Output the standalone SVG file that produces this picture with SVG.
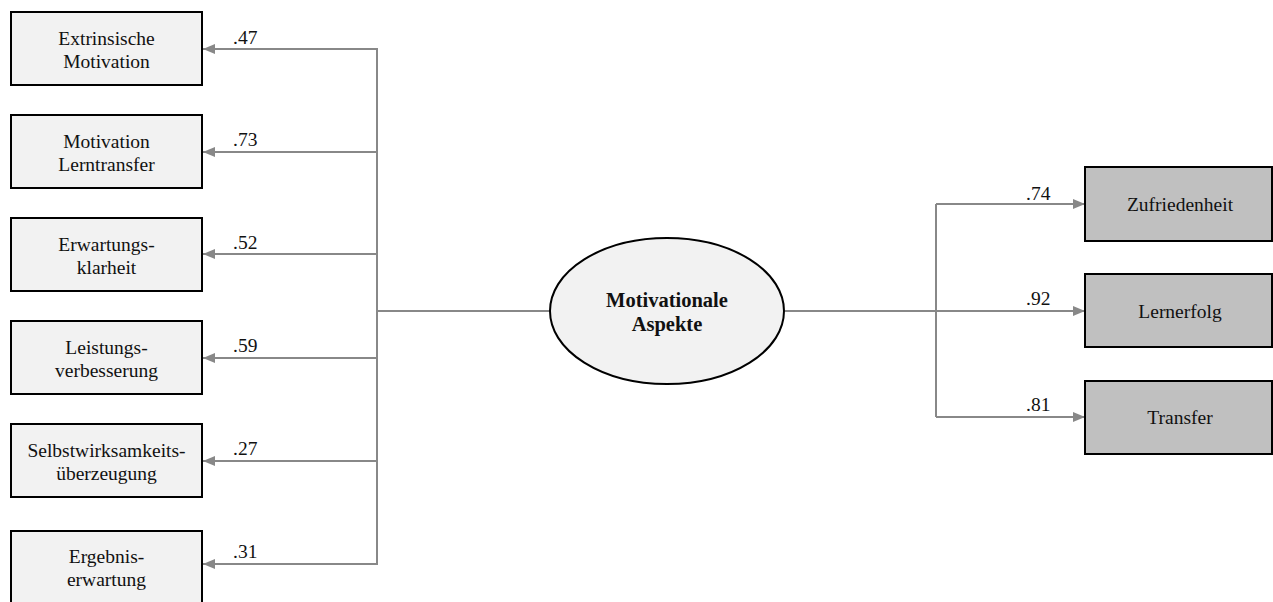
<svg xmlns="http://www.w3.org/2000/svg" width="1273" height="602" viewBox="0 0 1273 602">
  <style>
    .ind rect { fill: #f2f2f2; stroke: #000; stroke-width: 2; }
    .out rect { fill: #c0c0c0; stroke: #000; stroke-width: 2; }
    .lat ellipse { fill: #f2f2f2; stroke: #000; stroke-width: 2; }
    text { font-family: "Liberation Serif", "Times New Roman", serif; font-size: 19.5px; fill: #111; text-anchor: middle; }
    .lat text { font-weight: bold; font-size: 20.5px; }
    .coef { text-anchor: start; }
    .conn { stroke: #888; stroke-width: 2; fill: none; }
  </style>
  <defs>
    <marker id="arrow" viewBox="0 0 12 10" refX="12" refY="5" markerWidth="12" markerHeight="10" markerUnits="userSpaceOnUse" orient="auto">
      <path d="M0,0 L12,5 L0,10 Z" fill="#888"/>
    </marker>
  </defs>

  <rect width="1273" height="602" fill="#fff"/>

  <!-- connectors -->
  <g id="connectors">
    <line class="conn" x1="377" y1="48" x2="377" y2="565"/>
    <line class="conn" x1="377" y1="311" x2="550" y2="311" stroke-width="3"/>
    <line class="conn" x1="377" y1="49" x2="203" y2="49" marker-end="url(#arrow)"/>
    <line class="conn" x1="377" y1="152" x2="203" y2="152" marker-end="url(#arrow)"/>
    <line class="conn" x1="377" y1="254" x2="203" y2="254" marker-end="url(#arrow)"/>
    <line class="conn" x1="377" y1="358" x2="203" y2="358" marker-end="url(#arrow)"/>
    <line class="conn" x1="377" y1="461" x2="203" y2="461" marker-end="url(#arrow)"/>
    <line class="conn" x1="377" y1="564" x2="203" y2="564" marker-end="url(#arrow)"/>

    <line class="conn" x1="785" y1="311" x2="936" y2="311" stroke-width="3"/>
    <line class="conn" x1="936" y1="204" x2="936" y2="417"/>
    <line class="conn" x1="936" y1="204" x2="1085" y2="204" marker-end="url(#arrow)"/>
    <line class="conn" x1="936" y1="311" x2="1085" y2="311" marker-end="url(#arrow)"/>
    <line class="conn" x1="936" y1="417" x2="1085" y2="417" marker-end="url(#arrow)"/>

    <text class="coef" x="233" y="44">.47</text>
    <text class="coef" x="233" y="146">.73</text>
    <text class="coef" x="233" y="249">.52</text>
    <text class="coef" x="233" y="352">.59</text>
    <text class="coef" x="233" y="455">.27</text>
    <text class="coef" x="233" y="558">.31</text>
    <text class="coef" x="1026" y="200">.74</text>
    <text class="coef" x="1026" y="305">.92</text>
    <text class="coef" x="1026" y="411">.81</text>
  </g>

  <!-- indicator boxes -->
  <g id="extrinsische-motivation" class="ind">
    <rect x="11" y="12" width="191" height="73"/>
    <text x="106.5" y="45">Extrinsische</text>
    <text x="106.5" y="68">Motivation</text>
  </g>
  <g id="motivation-lerntransfer" class="ind">
    <rect x="11" y="115" width="191" height="73"/>
    <text x="106.5" y="148">Motivation</text>
    <text x="106.5" y="171">Lerntransfer</text>
  </g>
  <g id="erwartungsklarheit" class="ind">
    <rect x="11" y="218" width="191" height="73"/>
    <text x="106.5" y="251">Erwartungs-</text>
    <text x="106.5" y="274">klarheit</text>
  </g>
  <g id="leistungsverbesserung" class="ind">
    <rect x="11" y="321" width="191" height="73"/>
    <text x="106.5" y="354">Leistungs-</text>
    <text x="106.5" y="377">verbesserung</text>
  </g>
  <g id="selbstwirksamkeit" class="ind">
    <rect x="11" y="424" width="191" height="73"/>
    <text x="106.5" y="457">Selbstwirksamkeits-</text>
    <text x="106.5" y="480">überzeugung</text>
  </g>
  <g id="ergebniserwartung" class="ind">
    <rect x="11" y="531" width="191" height="73"/>
    <text x="106.5" y="563">Ergebnis-</text>
    <text x="106.5" y="586">erwartung</text>
  </g>

  <!-- latent factor -->
  <g id="motivationale-aspekte" class="lat">
    <ellipse cx="667" cy="311" rx="117" ry="73"/>
    <text x="667" y="307">Motivationale</text>
    <text x="667" y="331">Aspekte</text>
  </g>

  <!-- outcome boxes -->
  <g id="zufriedenheit" class="out">
    <rect x="1085" y="167" width="187" height="74"/>
    <text x="1180" y="211">Zufriedenheit</text>
  </g>
  <g id="lernerfolg" class="out">
    <rect x="1085" y="274" width="187" height="73"/>
    <text x="1180" y="318">Lernerfolg</text>
  </g>
  <g id="transfer" class="out">
    <rect x="1085" y="381" width="187" height="73"/>
    <text x="1180" y="424">Transfer</text>
  </g>
</svg>
